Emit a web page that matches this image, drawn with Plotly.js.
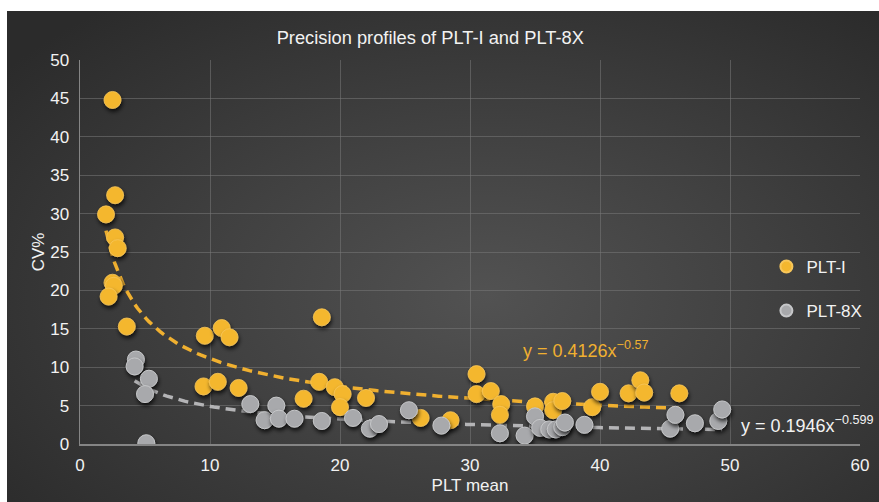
<!DOCTYPE html>
<html>
<head>
<meta charset="utf-8">
<script src="https://cdn.plot.ly/plotly-3.0.1.min.js"></script>
<style>
  html, body { margin: 0; padding: 0; background: #ffffff; }
  #bg { position: absolute; left: 7px; top: 11px; width: 872px; height: 491px;
        background: radial-gradient(ellipse 70% 75% at 55% 58%, #525252 0%, #414141 45%, #2b2b2b 100%); }
  #chart { position: absolute; left: 0; top: 0; width: 879px; height: 502px; }
</style>
</head>
<body>
<div id="bg"></div>
<div id="chart"></div>
<script>
// PLT-I: mean PLT vs CV%
var pltI_mean = [2.5, 2.7, 2.0, 2.7, 2.9, 2.5, 2.6, 2.2, 3.6, 9.6, 10.9, 11.5, 18.6, 9.5, 10.6, 12.2, 17.2, 18.4, 19.6, 20.2, 20.0, 22.0, 26.2, 28.5, 30.5, 30.5, 31.6, 32.4, 32.3, 35.0, 36.4, 36.4, 37.1, 39.4, 40.0, 42.2, 43.1, 43.4, 46.1];
var pltI_cv   = [44.8, 32.4, 29.9, 26.9, 25.5, 21.0, 20.6, 19.2, 15.3, 14.1, 15.1, 13.9, 16.5, 7.5, 8.1, 7.3, 5.9, 8.1, 7.4, 6.5, 4.8, 6.0, 3.4, 3.1, 9.1, 6.5, 6.9, 5.2, 3.8, 4.9, 5.5, 4.4, 5.6, 4.8, 6.8, 6.6, 8.3, 6.7, 6.6];
// PLT-8X: mean PLT vs CV%
var plt8x_mean = [4.3, 4.2, 5.3, 5.0, 5.1, 13.1, 14.2, 15.1, 15.3, 16.5, 18.6, 21.0, 22.3, 23.0, 25.3, 27.8, 32.3, 34.2, 35.0, 35.4, 36.1, 36.6, 37.1, 37.3, 38.8, 45.4, 45.8, 47.3, 49.1, 49.4];
var plt8x_cv   = [11.0, 10.1, 8.5, 6.5, 0.1, 5.2, 3.1, 5.0, 3.3, 3.3, 3.0, 3.4, 2.0, 2.6, 4.4, 2.4, 1.4, 1.1, 3.6, 2.1, 1.9, 1.9, 2.2, 2.8, 2.5, 2.0, 3.8, 2.7, 3.0, 4.5];
// Power trendlines as shown on the chart (coefficient in CV% units)
var fitI  = [41.26, -0.57];
var fit8X = [19.46, -0.599];
var eqI_text  = 'y = 0.4126x<sup>\u22120.57</sup>';
var eq8X_text = 'y = 0.1946x<sup>\u22120.599</sup>';
var xTicks = [0, 10, 20, 30, 40, 50, 60];
var yTicks = [0, 5, 10, 15, 20, 25, 30, 35, 40, 45, 50];

function trend(xs, fit) {
  var lo = Math.min.apply(null, xs), hi = Math.max.apply(null, xs);
  var tx = [], ty = [];
  for (var i = 0; i <= 200; i++) {
    var x = lo + (hi - lo) * i / 200;
    tx.push(x); ty.push(fit[0] * Math.pow(x, fit[1]));
  }
  return {x: tx, y: ty};
}
var tI = trend(pltI_mean, fitI), t8 = trend(plt8x_mean, fit8X);

var orange = '#F4B72F', gray = '#A8A9AC';
var data = [
  {x: tI.x, y: tI.y, mode: 'lines', showlegend: false, hoverinfo: 'skip',
   line: {color: '#F0B030', width: 3.5, dash: '10px,6px'}},
  {x: t8.x, y: t8.y, mode: 'lines', showlegend: false, hoverinfo: 'skip',
   line: {color: '#B4B4B6', width: 3.5, dash: '10px,6px'}},
  {x: pltI_mean, y: pltI_cv, mode: 'markers', name: 'PLT-I', legendgroup: 'a',
   marker: {color: orange, size: 17, line: {color: '#F7C65A', width: 0.8}}},
  {x: plt8x_mean, y: plt8x_cv, mode: 'markers', name: 'PLT-8X', legendgroup: 'b',
   marker: {color: gray, size: 17, line: {color: '#C6C7C9', width: 1}}}
];

var fontFam = '"Liberation Sans", Arial, Helvetica, sans-serif';
var layout = {
  width: 879, height: 502,
  margin: {l: 80, r: 15, t: 60, b: 58},
  paper_bgcolor: 'rgba(0,0,0,0)',
  plot_bgcolor: 'rgba(0,0,0,0)',
  font: {family: fontFam, color: '#F2F2F2', size: 17},
  title: {text: 'Precision profiles of PLT-I and PLT-8X', x: 0.4895, xanchor: 'center',
          y: 0.926, yanchor: 'middle', xref: 'container', yref: 'container',
          font: {size: 18.3, color: '#F2F2F2', family: fontFam}},
  xaxis: {range: [0, 60], tickvals: xTicks, ticktext: xTicks.map(String),
          showgrid: true, gridcolor: 'rgba(120,120,120,0.55)', gridwidth: 1,
          zeroline: false, showline: true, linecolor: '#858585', linewidth: 1.5,
          ticks: '', ticklabelstandoff: 5, tickfont: {size: 17},
          title: {text: 'PLT mean', font: {size: 17}, standoff: 5}},
  yaxis: {range: [0, 50], tickvals: yTicks, ticktext: yTicks.map(String),
          showgrid: true, gridcolor: 'rgba(120,120,120,0.55)', gridwidth: 1,
          zeroline: false, showline: true, linecolor: '#858585', linewidth: 1.5,
          ticks: '', ticklabelstandoff: 6, tickfont: {size: 17},
          title: {text: 'CV%', font: {size: 17}, standoff: 1}},
  legend: {x: 0.88, xanchor: 'left', y: 0.508, yanchor: 'top', bgcolor: 'rgba(0,0,0,0)',
           traceorder: 'grouped', tracegroupgap: 19, itemsizing: 'constant',
           font: {size: 17, color: '#F2F2F2'}},
  annotations: [
    {text: eqI_text, xref: 'paper', yref: 'paper', x: 0.565, y: 0.245, xanchor: 'left', yanchor: 'middle',
     showarrow: false, font: {size: 18, color: '#F0B030', family: fontFam}},
    {text: eq8X_text, xref: 'paper', yref: 'paper', x: 0.845, y: 0.05, xanchor: 'left', yanchor: 'middle',
     showarrow: false, font: {size: 18, color: '#F2F2F2', family: fontFam}}
  ]
};

Plotly.newPlot('chart', data, layout, {staticPlot: true}).then(function (gd) {
  var svg = gd.querySelector('svg.main-svg');
  var ns = 'http://www.w3.org/2000/svg';
  var defs = svg.querySelector('defs') || svg.insertBefore(document.createElementNS(ns, 'defs'), svg.firstChild);
  var f = document.createElementNS(ns, 'filter');
  f.setAttribute('id', 'mshadow');
  f.setAttribute('x', '-60%'); f.setAttribute('y', '-60%');
  f.setAttribute('width', '220%'); f.setAttribute('height', '220%');
  var ds = document.createElementNS(ns, 'feDropShadow');
  ds.setAttribute('dx', '1'); ds.setAttribute('dy', '3');
  ds.setAttribute('stdDeviation', '2');
  ds.setAttribute('flood-color', '#000'); ds.setAttribute('flood-opacity', '0.75');
  f.appendChild(ds);
  defs.appendChild(f);
  gd.querySelectorAll('.scatterlayer .trace .points path').forEach(function (p) {
    p.setAttribute('filter', 'url(#mshadow)');
  });
});
</script>
</body>
</html>
